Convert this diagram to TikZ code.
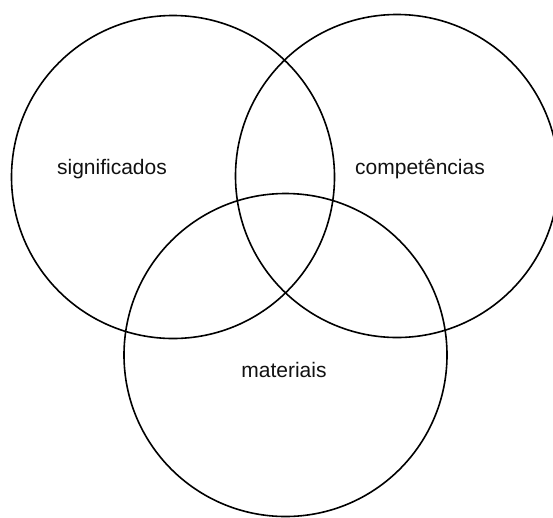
\documentclass[tikz,border=0pt]{standalone}
\usepackage{fontspec}
\setmainfont{Liberation Sans}
\usepackage{xcolor}
\definecolor{cLine}{HTML}{000000}
\definecolor{cText}{HTML}{111111}
\usepackage{tikz}
\usetikzlibrary{positioning}
\tikzset{
  venn-set/.style={draw=cLine,line width=1.6pt,circle,inner sep=0pt,
    minimum size=323pt},
  venn-label/.style={text=cText,inner sep=0pt,
    font=\fontsize{21}{25}\selectfont},
}

\begin{document}
\begin{tikzpicture}[x=1pt,y=-1pt]
  \clip (0,0) rectangle (553,517);
  \node[venn-set] (sig)  at (173,177)   {};
  \node[venn-set] (comp) at (397,176)   {};
  \node[venn-set] (mat)  at (285.5,355) {};
  \node[venn-label] (sigtxt)  at (112,169) {significados};
  \node[venn-label] (comptxt) at (420,169) {competências};
  \node[venn-label] (mattxt)  at (284,370) {materiais};
\end{tikzpicture}
\end{document}
